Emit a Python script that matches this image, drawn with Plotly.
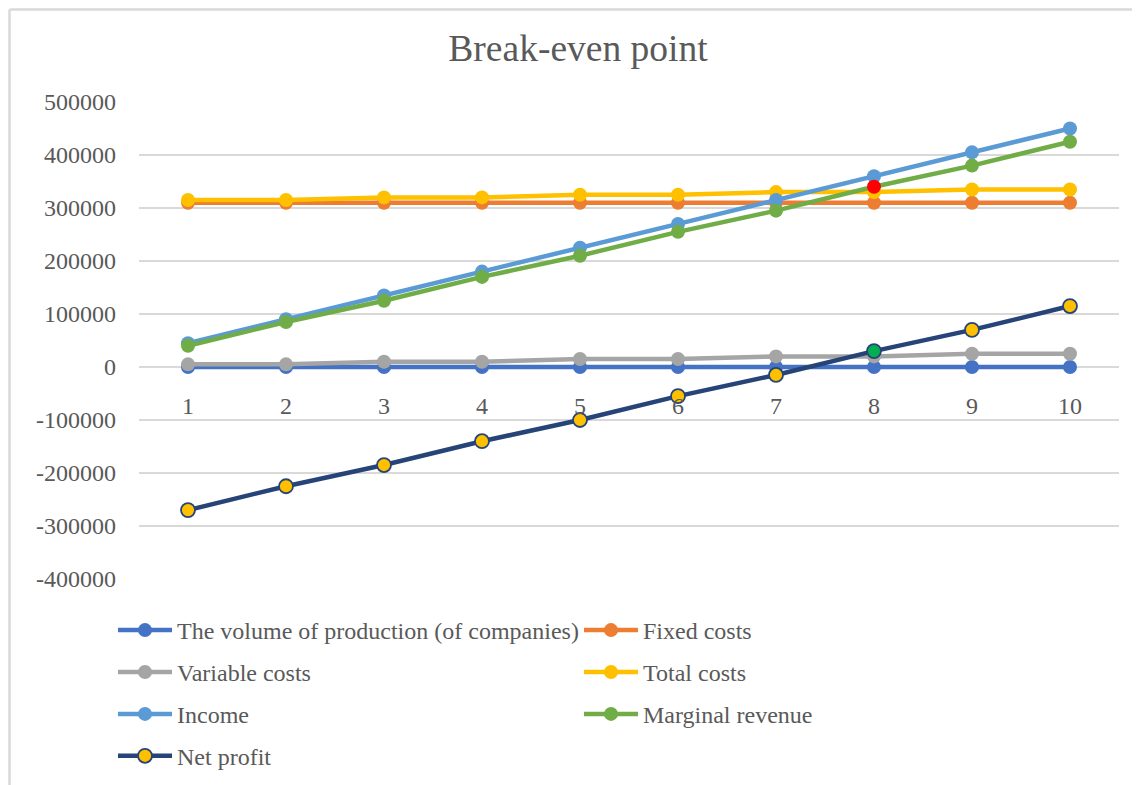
import plotly.graph_objects as go

x_vals = [1, 2, 3, 4, 5, 6, 7, 8, 9, 10]
volume = [1, 2, 3, 4, 5, 6, 7, 8, 9, 10]
fixed_costs = [310000] * 10
variable_costs = [5000, 5000, 10000, 10000, 15000, 15000, 20000, 20000, 25000, 25000]
total_costs = [315000, 315000, 320000, 320000, 325000, 325000, 330000, 330000, 335000, 335000]
income = [45000, 90000, 135000, 180000, 225000, 270000, 315000, 360000, 405000, 450000]
marginal_revenue = [40000, 85000, 125000, 170000, 210000, 255000, 295000, 340000, 380000, 425000]
net_profit = [-270000, -225000, -185000, -140000, -100000, -55000, -15000, 30000, 70000, 115000]

y_tickvals = [500000, 400000, 300000, 200000, 100000, 0, -100000, -200000, -300000, -400000]
y_ticktext = ["500000", "400000", "300000", "200000", "100000", "0", "-100000", "-200000", "-300000", "-400000"]

FONT = "Liberation Serif, Times New Roman, serif"
TXT = "#595959"

fig = go.Figure()

def add(name, y, color, legend, mcolor=None, mline=None):
    marker = dict(size=14, color=mcolor if mcolor is not None else color)
    if mline:
        marker["line"] = dict(color=mline, width=1.8)
    fig.add_trace(go.Scatter(
        x=x_vals, y=y, name=name, mode="lines+markers",
        line=dict(color=color, width=4.5), marker=marker,
        legend=legend, legendgroup=name,
    ))

add("The volume of production (of companies)", volume, "#4472C4", "legend")
add("Fixed costs", fixed_costs, "#ED7D31", "legend2")
add("Variable costs", variable_costs, "#A5A5A5", "legend")
add("Total costs", total_costs, "#FFC000", "legend2")
add("Income", income, "#5B9BD5", "legend")
mr_colors = ["#70AD47"] * 10
mr_colors[7] = "#FF0000"
add("Marginal revenue", marginal_revenue, "#70AD47", "legend2", mcolor=mr_colors)
np_colors = ["#FFC000"] * 10
np_colors[7] = "#00B050"
add("Net profit", net_profit, "#264478", "legend", mcolor=np_colors, mline="#264478")

OFF = 8  # page body margin
W, H = 1140, 785
pw, ph = 980, 477
L = 139 - OFF
T = 102 - OFF
R = W - L - pw
B = H - T - ph

def px_x(sx):
    return (sx - OFF - L) / pw

def px_y(sy):
    return (H - B - (sy - OFF)) / ph

def cont_x(sx):
    return (sx - OFF) / W

def cont_y(sy):
    return 1 - (sy - OFF) / H

legend_common = dict(
    orientation="v", traceorder="grouped", tracegroupgap=7.7,
    font=dict(family=FONT, size=24, color=TXT),
    bgcolor="rgba(0,0,0,0)", itemwidth=54,
    xanchor="left", yanchor="top", xref="container", yref="container",
)

fig.update_layout(
    width=W, height=H,
    margin=dict(l=L, r=R, t=T, b=B, autoexpand=False),
    paper_bgcolor="white", plot_bgcolor="white",
    font=dict(family=FONT, size=24, color=TXT),
    title=dict(text="Break-even point", x=cont_x(578), xanchor="center",
               y=cont_y(48), yanchor="middle", xref="container", yref="container",
               font=dict(family=FONT, size=37.5, color=TXT)),
    xaxis=dict(
        range=[0.5, 10.5], tickmode="array", tickvals=x_vals,
        ticktext=[str(v) for v in x_vals],
        showgrid=False, zeroline=False, showline=False,
        anchor="free", position=4 / 9, ticks="", ticklabelstandoff=22,
        tickfont=dict(family=FONT, size=24, color=TXT),
    ),
    yaxis=dict(
        range=[-400000, 500000], tickmode="array", tickvals=y_tickvals, ticktext=y_ticktext,
        showgrid=True, gridcolor="#D9D9D9", gridwidth=1.5, zeroline=False,
        showline=False, ticks="", ticklabelstandoff=22,
        tickfont=dict(family=FONT, size=24, color=TXT),
    ),
    legend=dict(x=cont_x(113), y=cont_y(608), **legend_common),
    legend2=dict(x=cont_x(579), y=cont_y(608), **legend_common),
    shapes=[
        dict(type="line", xref="paper", yref="paper",
             x0=px_x(9.5), x1=px_x(9.5), y0=px_y(9.5), y1=px_y(800),
             line=dict(color="#D9D9D9", width=2.5), layer="above"),
        dict(type="line", xref="paper", yref="paper",
             x0=px_x(9.5), x1=px_x(1160), y0=px_y(9.5), y1=px_y(9.5),
             line=dict(color="#D9D9D9", width=2.5), layer="above"),
    ],
)

fig.write_html("out.html")
